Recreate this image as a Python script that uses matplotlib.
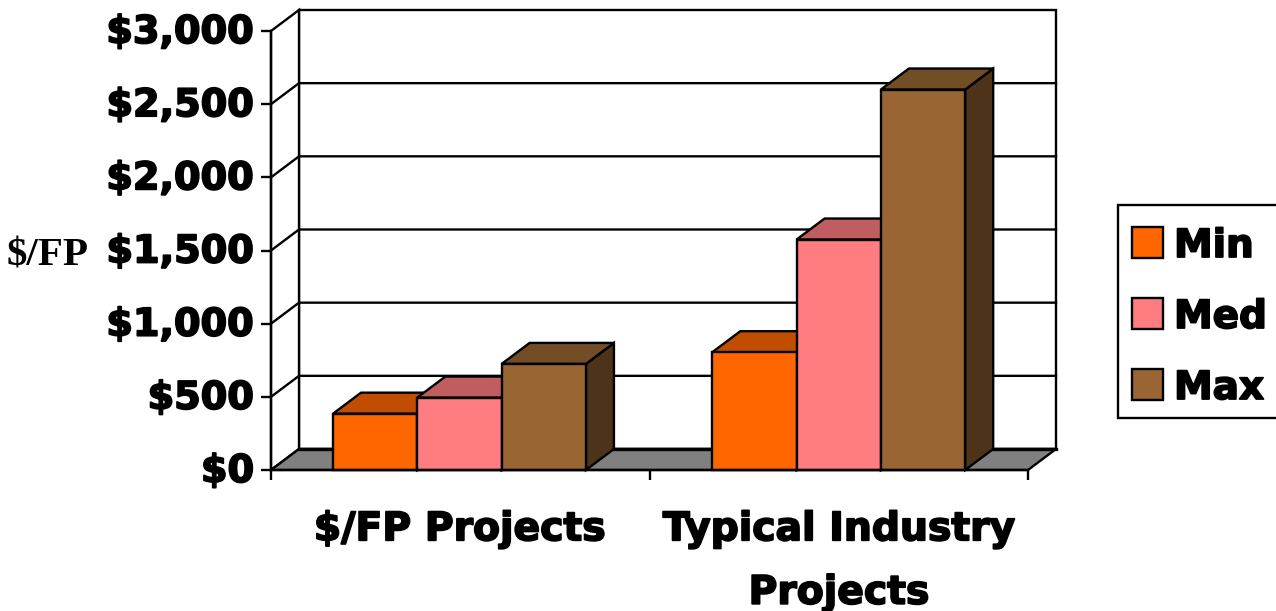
import matplotlib
matplotlib.use('Agg')
import matplotlib.pyplot as plt
import matplotlib.patheffects as pe
from matplotlib.patches import Polygon, Rectangle
from matplotlib.transforms import ScaledTranslation

categories = ['$/FP Projects', 'Typical Industry\nProjects']
series = ['Min', 'Med', 'Max']
min_vals = [385, 805]
med_vals = [495, 1575]
max_vals = [725, 2600]
y_ticks = [0, 500, 1000, 1500, 2000, 2500, 3000]
y_labels = ['$0', '$500', '$1,000', '$1,500', '$2,000', '$2,500', '$3,000']

front = ['#FF6600', '#FF7C80', '#996633']
top = ['#C04D00', '#BF5D60', '#734D26']
side = ['#803300', '#803E40', '#4D331A']

W, H = 1276, 611
LW = 1.7
fig = plt.figure(figsize=(W / 100, H / 100), dpi=100)
ax = fig.add_axes([271 / W, 1 - 470 / H, (1028 - 271) / W, (470 - 31) / H])
ax.set_xlim(0, 2)
ax.set_ylim(0, 3000)

# depth of the fake 3d box, in data units
dx = 28 / 378.5
dy = 21 / (439 / 3000)
bar_w = 84.3 / 378.5
group_pos = [0.498, 1.5]

# the original font is much heavier than DejaVu bold, thicken it with a stroke
heavy = [pe.withStroke(linewidth=1.3, foreground='black')]

def poly(pts, color, z=2):
    ax.add_patch(Polygon(pts, closed=True, facecolor=color, edgecolor='black',
                         lw=LW, clip_on=False, zorder=z, joinstyle='miter'))

# walls and floor
poly([(dx, dy), (2 + dx, dy), (2 + dx, 3000 + dy), (dx, 3000 + dy)], 'white', 1)
poly([(0, 0), (dx, dy), (dx, 3000 + dy), (0, 3000)], 'white', 1)
poly([(0, 0), (2, 0), (2 + dx, dy), (dx, dy)], '#808080', 1)
ax.plot([dx, 2 + dx], [dy, dy], color='black', lw=2.4, clip_on=False, zorder=1.2)

# gridlines on back and left wall
for t in y_ticks[1:-1]:
    ax.plot([0, dx, 2 + dx], [t, t + dy, t + dy], color='black', lw=LW,
            clip_on=False, zorder=1.5)

# bars
for g in range(len(categories)):
    vals = [min_vals[g], med_vals[g], max_vals[g]]
    for s, v in enumerate(vals):
        x0 = group_pos[g] + (s - 1.5) * bar_w
        x1 = x0 + bar_w
        poly([(x1, 0), (x1 + dx, dy), (x1 + dx, v + dy), (x1, v)], side[s], 2)
        poly([(x0, v), (x1, v), (x1 + dx, v + dy), (x0 + dx, v + dy)], top[s], 2)
        poly([(x0, 0), (x1, 0), (x1, v), (x0, v)], front[s], 2)

for sp in ['top', 'right']:
    ax.spines[sp].set_visible(False)
for sp in ['left', 'bottom']:
    ax.spines[sp].set_linewidth(LW)
    ax.spines[sp].set_zorder(5)
ax.patch.set_visible(False)

font = dict(family='DejaVu Sans', fontweight='bold')
ax.set_yticks(y_ticks)
ax.set_yticklabels(y_labels, fontsize=27.5, **font)
ax.tick_params(axis='y', length=7, width=LW, pad=5)
up = ScaledTranslation(0, 2 / 100, fig.dpi_scale_trans)
for lab in ax.get_yticklabels():
    lab.set_path_effects(heavy)
    lab.set_transform(lab.get_transform() + up)

ax.set_xticks([0, 1, 2])
ax.set_xticklabels([])
ax.tick_params(axis='x', length=7, width=LW)
ax.set_xticks(group_pos, minor=True)
ax.set_xticklabels(categories, minor=True, fontsize=28.3, linespacing=1.85, va='top', **font)
ax.tick_params(axis='x', which='minor', length=0, pad=29)
for lab in ax.get_xticklabels(minor=True):
    lab.set_path_effects(heavy)

fig.text(48 / W, 1 - 256 / H, '$/FP', family='Liberation Serif', fontweight='bold',
         fontsize=29.5, ha='center', va='center')

# legend box, cut off by the right edge like in the original
fig.add_artist(Rectangle((1118 / W, 1 - 418 / H), 170 / W, 213 / H, transform=fig.transFigure,
                         facecolor='white', edgecolor='black', lw=LW, clip_on=True))
for i, name in enumerate(series):
    y = 1 - (242.5 + i * 71) / H
    fig.add_artist(Rectangle((1132 / W, y - 15.5 / H), 31 / W, 31 / H, transform=fig.transFigure,
                             facecolor=front[i], edgecolor='black', lw=LW))
    fig.text(1174 / W, y - 3.5 / H, name, fontsize=28, va='center', ha='left',
             path_effects=heavy, **font)

fig.savefig('out.png', dpi=100)
